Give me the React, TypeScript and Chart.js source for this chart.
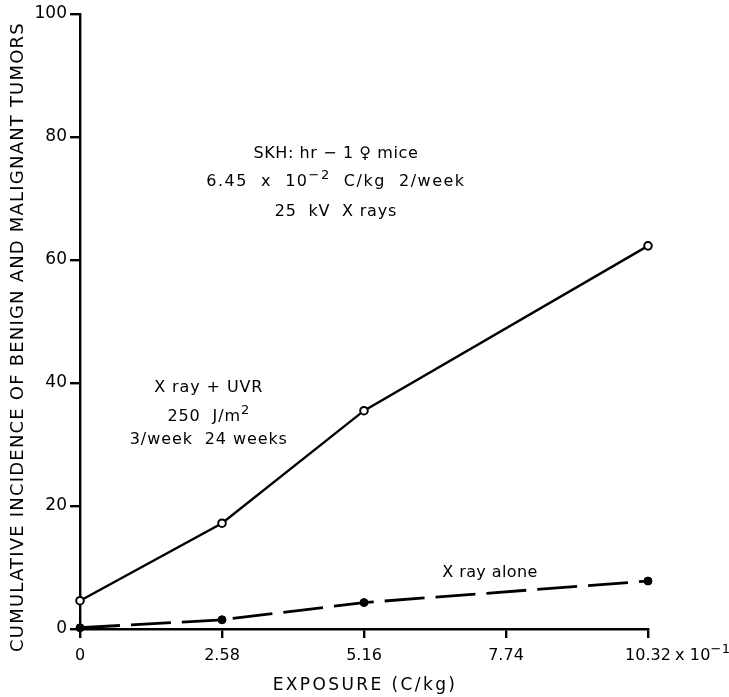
import React, { useEffect, useRef } from "react";
import { Chart, registerables } from "chart.js";

Chart.register(...registerables);

const exposure = [0, 2.58, 5.16, 10.32];
const xrayUvr = [4.6, 17.2, 35.5, 62.3];
const xrayAlone = [0.2, 1.5, 4.3, 7.8];
const xTicks = [0, 2.58, 5.16, 7.74, 10.32];
const yTicks = [0, 20, 40, 60, 80, 100];
const yTitle = "CUMULATIVE INCIDENCE OF BENIGN AND MALIGNANT TUMORS";
const xTitle = "EXPOSURE (C/kg)";
const xUnitSuffix = "x 10⁻¹";
const noteMice = ["SKH: hr − 1 ♀ mice", "6.45  x  10⁻²  C/kg  2/week", "25  kV  X rays"];
const noteMicePos = { x: 4.65, y: [77.3, 72.7, 67.9] };
const noteMiceSpacing = [0.6, 1.5, 0.8];
const noteUvr = ["X ray + UVR", "250  J/m²", "3/week  24 weeks"];
const noteUvrPos = { x: 2.34, y: [39.2, 34.5, 30.7] };
const noteAlone = "X ray alone";
const noteAlonePos = { x: 7.45, y: 9.1 };

const FONT = "'DejaVu Sans', sans-serif";
const SUP: Record<string, string> = { "⁻": "−", "¹": "1", "²": "2" };

// draws text; unicode superscript chars are drawn raised at a reduced size
function drawRich(ctx: any, text: string, cx: number, cy: number, size: number, spacing: number, align: "center" | "left" = "center") {
  const parts: { t: string; sup: boolean }[] = [];
  for (const ch of text) {
    const sup = ch in SUP;
    const c = sup ? SUP[ch] : ch;
    const last = parts[parts.length - 1];
    if (last && last.sup === sup) last.t += c;
    else parts.push({ t: c, sup });
  }
  ctx.letterSpacing = `${spacing}px`;
  const widths = parts.map((p) => {
    ctx.font = `${p.sup ? Math.round(size * 0.8) : size}px ${FONT}`;
    return ctx.measureText(p.t).width;
  });
  const total = widths.reduce((a, b) => a + b, 0);
  let x = align === "center" ? cx - total / 2 : cx;
  ctx.textAlign = "left";
  ctx.textBaseline = "middle";
  parts.forEach((p, i) => {
    ctx.font = `${p.sup ? Math.round(size * 0.8) : size}px ${FONT}`;
    ctx.fillText(p.t, x, p.sup ? cy - size * 0.4 : cy);
    x += widths[i];
  });
  ctx.letterSpacing = "0px";
}

const annotations = {
  id: "annotations",
  afterDraw(chart: any) {
    const { ctx, scales, chartArea } = chart;
    const xs = scales.x;
    const ys = scales.y;
    ctx.save();
    ctx.fillStyle = "#000";
    noteMice.forEach((t, i) => {
      drawRich(ctx, t, xs.getPixelForValue(noteMicePos.x), ys.getPixelForValue(noteMicePos.y[i]), 16, noteMiceSpacing[i]);
    });
    noteUvr.forEach((t, i) => {
      drawRich(ctx, t, xs.getPixelForValue(noteUvrPos.x), ys.getPixelForValue(noteUvrPos.y[i]), 16, 0.9);
    });
    drawRich(ctx, noteAlone, xs.getPixelForValue(noteAlonePos.x), ys.getPixelForValue(noteAlonePos.y), 16, 0.4);

    // unit suffix after last x tick label
    ctx.font = `16px ${FONT}`;
    const lastX = xs.getPixelForValue(xTicks[xTicks.length - 1]);
    const lastLabelW = ctx.measureText("10.32").width;
    drawRich(ctx, xUnitSuffix, lastX + lastLabelW / 2 + 4, chartArea.bottom + 27, 16, 0.2, "left");

    // x title
    drawRich(ctx, xTitle, (chartArea.left + chartArea.right) / 2 + 1, 686, 17, 2.4);

    // y title
    ctx.translate(18, 337);
    ctx.rotate(-Math.PI / 2);
    drawRich(ctx, yTitle, 0, 0, 18, 1.2);
    ctx.restore();
  },
};

export default function App() {
  const ref = useRef<HTMLCanvasElement>(null);
  useEffect(() => {
    document.body.style.margin = "0";
    const canvas = ref.current!;
    const chart = new Chart(canvas, {
      type: "line",
      data: {
        datasets: [
          {
            label: "X ray + UVR",
            data: exposure.map((x, i) => ({ x, y: xrayUvr[i] })),
            borderColor: "#000",
            borderWidth: 2.4,
            pointRadius: 3.8,
            pointBackgroundColor: "#fff",
            pointBorderColor: "#000",
            pointBorderWidth: 2,
            tension: 0,
            clip: false as any,
          },
          {
            label: "X ray alone",
            data: exposure.map((x, i) => ({ x, y: xrayAlone[i] })),
            borderColor: "#000",
            borderWidth: 2.8,
            borderDash: [40, 11],
            pointRadius: 4,
            pointBackgroundColor: "#000",
            pointBorderColor: "#000",
            pointBorderWidth: 1,
            tension: 0,
            clip: false as any,
          },
        ],
      },
      options: {
        responsive: false,
        animation: false,
        layout: { padding: { top: 14, right: 81, bottom: 0, left: 0 } },
        plugins: { legend: { display: false }, tooltip: { enabled: false } },
        scales: {
          x: {
            type: "linear",
            min: 0,
            max: 10.32,
            afterBuildTicks: (s: any) => {
              s.ticks = xTicks.map((v) => ({ value: v }));
            },
            afterFit: (s: any) => {
              s.height = 68;
            },
            grid: { drawOnChartArea: false, drawTicks: true, tickLength: 9, color: "#000", lineWidth: 2.4 },
            border: { color: "#000", width: 2.4 },
            ticks: {
              color: "#000",
              font: { family: FONT, size: 16 },
              padding: 8,
              maxRotation: 0,
              autoSkip: false,
              callback: (v: any) => (Number(v) === 0 ? "0" : Number(v).toFixed(2)),
            },
          },
          y: {
            min: 0,
            max: 100,
            afterBuildTicks: (s: any) => {
              s.ticks = yTicks.map((v) => ({ value: v }));
            },
            afterFit: (s: any) => {
              s.width = 80;
            },
            grid: { drawOnChartArea: false, drawTicks: true, tickLength: 10, color: "#000", lineWidth: 2.4 },
            border: { color: "#000", width: 2.4 },
            ticks: {
              color: "#000",
              font: { family: FONT, size: 17 },
              padding: 3,
              autoSkip: false,
              callback: (v: any) => String(v),
            },
          },
        },
      },
      plugins: [annotations],
    });
    return () => chart.destroy();
  }, []);
  return (
    <div style={{ width: 729, height: 697 }}>
      <canvas ref={ref} width={729} height={697} style={{ display: "block" }} />
    </div>
  );
}
